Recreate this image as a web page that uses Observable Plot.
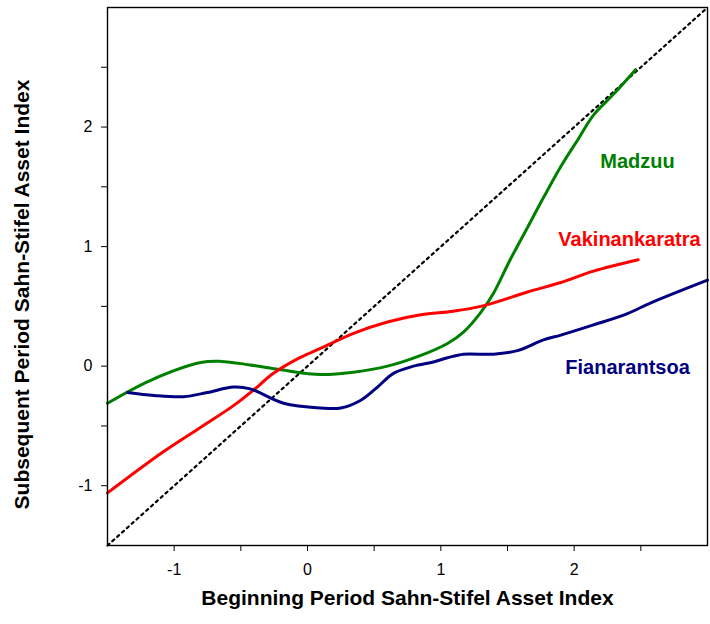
<!DOCTYPE html>
<html><head><meta charset="utf-8">
<script src="https://cdn.jsdelivr.net/npm/d3@7"></script>
<script src="https://cdn.jsdelivr.net/npm/@observablehq/plot@0.6"></script>
<style>body{margin:0;background:#fff}</style>
</head><body><div id="chart"></div>
<script>
// Madzuu (green)
const madzuuX = [-1.5, -1.18, -0.80, -0.65, -0.43, -0.20, 0.10, 0.345, 0.60, 0.85, 1.05, 1.17, 1.30, 1.395, 1.52, 1.65, 1.77, 1.90, 2.025, 2.145, 2.30, 2.46];
const madzuuY = [-0.31, -0.12, 0.03, 0.04, 0.01, -0.03, -0.07, -0.05, 0.0, 0.09, 0.19, 0.285, 0.45, 0.61, 0.89, 1.16, 1.41, 1.67, 1.89, 2.10, 2.28, 2.48];
// Vakinankaratra (red)
const vakinX = [-1.5, -1.10, -0.80, -0.555, -0.405, -0.255, -0.05, 0.10, 0.345, 0.60, 0.85, 1.095, 1.30, 1.65, 1.90, 2.145, 2.48];
const vakinY = [-1.06, -0.73, -0.51, -0.33, -0.20, -0.06, 0.075, 0.15, 0.275, 0.37, 0.43, 0.46, 0.50, 0.62, 0.70, 0.795, 0.89];
// Fianarantsoa (navy)
const fianX = [-1.35, -1.15, -0.93, -0.75, -0.555, -0.43, -0.18, 0.10, 0.25, 0.40, 0.525, 0.645, 0.795, 0.945, 1.05, 1.17, 1.395, 1.575, 1.77, 1.90, 2.145, 2.40, 2.575, 3.0];
const fianY = [-0.22, -0.245, -0.255, -0.22, -0.175, -0.19, -0.31, -0.35, -0.35, -0.285, -0.175, -0.06, 0.0, 0.035, 0.07, 0.10, 0.10, 0.13, 0.22, 0.26, 0.345, 0.44, 0.53, 0.72];

const seriesNames = ["Madzuu", "Vakinankaratra", "Fianarantsoa"];
const seriesColors = ["#008000", "#ff0000", "#000080"];
const labelX = [2.475, 2.415, 2.40];
const labelY = [1.715, 1.055, -0.01];

const diagX = [-1.5, 3];
const xTicks = [-1, -0.5, 0, 0.5, 1, 1.5, 2, 2.5];
const yTicks = [-1, -0.5, 0, 0.5, 1, 1.5, 2, 2.5];

const xLabel = "Beginning Period Sahn-Stifel Asset Index";
const yLabel = "Subsequent Period Sahn-Stifel Asset Index";

const toRows = (xs, ys, name) => xs.map((x, i) => ({x, y: ys[i], name}));
const rows = [
  ...toRows(madzuuX, madzuuY, seriesNames[0]),
  ...toRows(vakinX, vakinY, seriesNames[1]),
  ...toRows(fianX, fianY, seriesNames[2])
];
const labels = seriesNames.map((name, i) => ({name, x: labelX[i], y: labelY[i]}));
const diag = diagX.map(v => ({x: v, y: v}));
const fmt = d => Number.isInteger(d) ? String(d) : "";

const chart = Plot.plot({
  width: 710,
  height: 624,
  marginLeft: 107,
  marginRight: 3,
  marginTop: 7,
  marginBottom: 79,
  style: {fontFamily: "'Liberation Sans', Arial, sans-serif", background: "#fff", color: "#000"},
  x: {domain: [-1.5, 3]},
  y: {domain: [-1.5, 3]},
  color: {domain: seriesNames, range: seriesColors},
  marks: [
    Plot.line(diag, {x: "x", y: "y", stroke: "#000", strokeWidth: 2.2, strokeDasharray: "2.5,4"}),
    Plot.line(rows, {x: "x", y: "y", z: "name", stroke: "name", strokeWidth: 3, curve: "catmull-rom"}),
    Plot.text(labels, {x: "x", y: "y", text: "name", fill: "name", fontSize: 20, fontWeight: "bold"}),
    Plot.frame({stroke: "#000", strokeWidth: 1.4}),
    Plot.axisX({ticks: xTicks, tickFormat: fmt, tickSize: 6, tickPadding: 12, fontSize: 16, label: null, stroke: "#000"}),
    Plot.axisY({ticks: yTicks, tickFormat: fmt, tickSize: 6, tickPadding: 9, fontSize: 16, label: null, stroke: "#000"}),
    Plot.text([xLabel], {text: d => d, frameAnchor: "bottom", lineAnchor: "middle", dy: 53, fontSize: 21, fontWeight: "bold"}),
    Plot.text([yLabel], {text: d => d, frameAnchor: "left", textAnchor: "middle", lineAnchor: "middle", dx: -85, dy: 18, rotate: -90, fontSize: 21, fontWeight: "bold"})
  ]
});
document.getElementById("chart").appendChild(chart);
</script>
</body></html>
